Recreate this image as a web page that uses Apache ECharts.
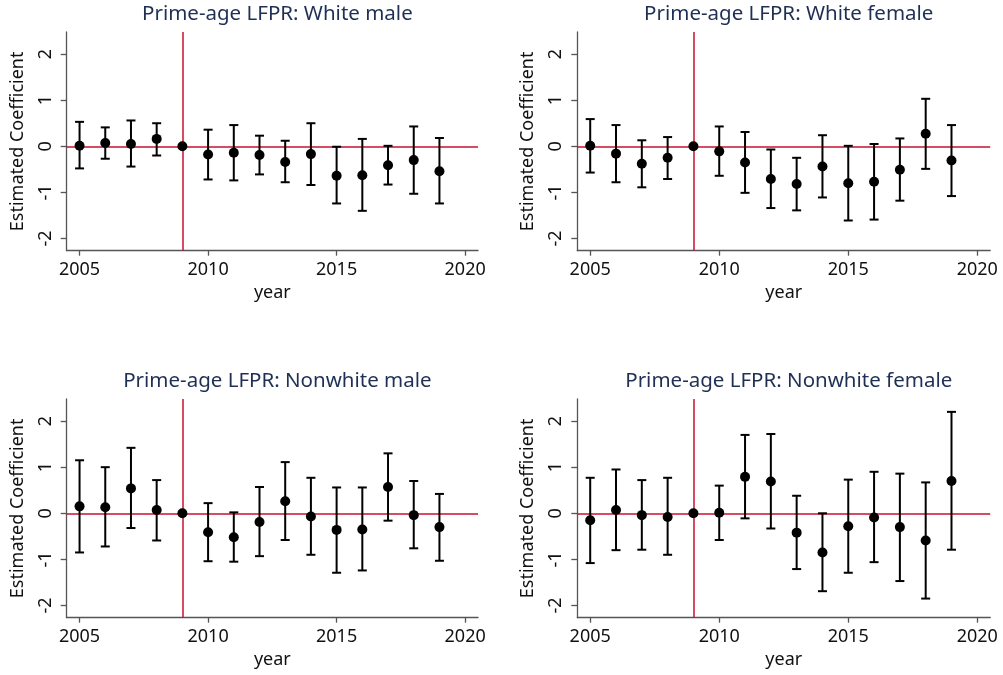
<!DOCTYPE html>
<html>
<head>
<meta charset="utf-8">
<script src="https://cdn.jsdelivr.net/npm/echarts@6/dist/echarts.min.js"></script>
<style>html,body{margin:0;padding:0;background:#fff}#c{width:1003px;height:675px}</style>
</head>
<body>
<div id="c"></div>
<script>
const years = [2005,2006,2007,2008,2009,2010,2011,2012,2013,2014,2015,2016,2017,2018,2019];
const titles = ["Prime-age LFPR: White male","Prime-age LFPR: White female","Prime-age LFPR: Nonwhite male","Prime-age LFPR: Nonwhite female"];
const xTicks = [2005,2010,2015,2020];
const yTicks = [-2,-1,0,1,2];
const eventYear = 2009;

const wmCoef = [0.01,0.07,0.05,0.16,0,-0.18,-0.14,-0.19,-0.34,-0.17,-0.64,-0.63,-0.41,-0.30,-0.54];
const wmLo   = [-0.48,-0.27,-0.44,-0.20,0,-0.72,-0.74,-0.61,-0.78,-0.84,-1.24,-1.40,-0.83,-1.03,-1.24];
const wmHi   = [0.53,0.41,0.56,0.50,0,0.36,0.46,0.23,0.12,0.50,-0.01,0.16,0.01,0.43,0.18];

const wfCoef = [0.01,-0.16,-0.38,-0.25,0,-0.11,-0.35,-0.71,-0.82,-0.44,-0.80,-0.77,-0.51,0.27,-0.31];
const wfLo   = [-0.57,-0.78,-0.89,-0.71,0,-0.64,-1.01,-1.34,-1.39,-1.11,-1.61,-1.59,-1.18,-0.49,-1.08];
const wfHi   = [0.59,0.46,0.13,0.20,0,0.43,0.31,-0.07,-0.25,0.24,0.01,0.05,0.17,1.03,0.46];

const nmCoef = [0.15,0.13,0.54,0.07,0,-0.41,-0.52,-0.19,0.26,-0.07,-0.36,-0.35,0.57,-0.04,-0.30];
const nmLo   = [-0.85,-0.72,-0.32,-0.59,0,-1.04,-1.05,-0.93,-0.58,-0.90,-1.29,-1.24,-0.16,-0.76,-1.03];
const nmHi   = [1.15,1.00,1.42,0.72,0,0.22,0.02,0.57,1.11,0.77,0.56,0.56,1.30,0.70,0.42];

const nfCoef = [-0.15,0.07,-0.04,-0.08,0,0.01,0.79,0.69,-0.42,-0.85,-0.28,-0.09,-0.30,-0.59,0.70];
const nfLo   = [-1.08,-0.80,-0.79,-0.90,0,-0.58,-0.11,-0.33,-1.21,-1.69,-1.29,-1.06,-1.47,-1.85,-0.79];
const nfHi   = [0.77,0.95,0.72,0.77,0,0.60,1.70,1.72,0.38,0.00,0.73,0.90,0.86,0.67,2.20];

const panels = [[wmCoef,wmLo,wmHi],[wfCoef,wfLo,wfHi],[nmCoef,nmLo,nmHi],[nfCoef,nfLo,nfHi]];

const FONT = "'Noto Sans', 'Open Sans', sans-serif";
const RED = '#c8102e';
const AX = '#555555';
const gridPos = [
  {left:66.7, top:32, width:411.3, height:218.7},
  {left:577.3, top:32, width:412.9, height:218.7},
  {left:66.7, top:399, width:411.3, height:218.7},
  {left:577.3, top:399, width:412.9, height:218.7}
];

const grid = [], xAxis = [], yAxis = [], series = [], title = [];
panels.forEach((p, i) => {
  const g = gridPos[i];
  grid.push(Object.assign({containLabel:false}, g));
  title.push({
    text: titles[i], left: g.left + g.width/2, top: g.top - 33, textAlign: 'center',
    textStyle: {fontFamily: FONT, fontSize: 20.5, fontWeight: 'normal', color: '#1f2f55'}
  });
  xAxis.push({
    type:'value', gridIndex:i, min:2004.5, max:2020.5,
    name:'year', nameLocation:'middle', nameGap:33,
    nameTextStyle:{fontFamily:FONT, fontSize:18, color:'#111'},
    axisLine:{show:true, onZero:false, lineStyle:{color:AX, width:1.3}},
    axisTick:{show:true, length:5, lineStyle:{color:AX, width:1.3}, customValues:xTicks},
    axisLabel:{fontFamily:FONT, fontSize:18, color:'#111', margin:10, customValues:xTicks, formatter: v => String(v)},
    splitLine:{show:false}
  });
  yAxis.push({
    type:'value', gridIndex:i, min:-2.265, max:2.479,
    name:'Estimated Coefficient', nameLocation:'middle', nameGap:40, nameRotate:90,
    nameTextStyle:{fontFamily:FONT, fontSize:18, color:'#111'},
    axisLine:{show:true, onZero:false, lineStyle:{color:AX, width:1.3}},
    axisTick:{show:true, length:6, lineStyle:{color:AX, width:1.3}, customValues:yTicks},
    axisLabel:{fontFamily:FONT, fontSize:18, color:'#111', margin:12, rotate:90, customValues:yTicks, formatter: v => String(v)},
    splitLine:{show:false}
  });
  const [coef, lo, hi] = p;
  series.push({
    type:'custom', xAxisIndex:i, yAxisIndex:i, z:3,
    data: years.map((y, k) => [y, lo[k], hi[k]]),
    renderItem: (params, api) => {
      const x = api.value(0);
      const a = api.coord([x, api.value(1)]);
      const b = api.coord([x, api.value(2)]);
      if (Math.abs(a[1]-b[1]) < 0.5) return {type:'group', children:[]};
      const w = 4.5;
      const st = {stroke:'#000', lineWidth:2};
      return {type:'group', children:[
        {type:'line', shape:{x1:a[0], y1:a[1], x2:b[0], y2:b[1]}, style:st},
        {type:'line', shape:{x1:a[0]-w, y1:a[1], x2:a[0]+w, y2:a[1]}, style:st},
        {type:'line', shape:{x1:b[0]-w, y1:b[1], x2:b[0]+w, y2:b[1]}, style:st}
      ]};
    }
  });
  series.push({
    type:'scatter', xAxisIndex:i, yAxisIndex:i, z:4,
    symbol:'circle', symbolSize:10,
    itemStyle:{color:'#000', opacity:1},
    data: years.map((y, k) => [y, coef[k]]),
    markLine:{
      silent:true, symbol:'none', animation:false, z:2,
      label:{show:false},
      lineStyle:{color:RED, width:1.5, type:'solid', opacity:1},
      data:[{xAxis:eventYear}, {yAxis:0}]
    }
  });
});

const chart = echarts.init(document.getElementById('c'), null, {renderer:'canvas'});
chart.setOption({animation:false, backgroundColor:'#fff', title, grid, xAxis, yAxis, series});
</script>
</body>
</html>
